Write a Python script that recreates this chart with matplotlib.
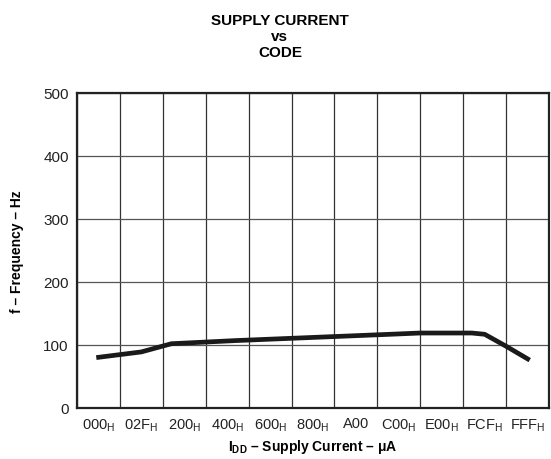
import matplotlib
matplotlib.use("Agg")
import matplotlib.pyplot as plt
import numpy as np

plt.rcParams['font.family'] = ['Liberation Sans', 'DejaVu Sans']
plt.rcParams['mathtext.fontset'] = 'custom'
plt.rcParams['mathtext.rm'] = 'Liberation Sans'
plt.rcParams['mathtext.bf'] = 'Liberation Sans:bold'

# code labels along x (one per grid cell)
codes = ["000$_{\\mathrm{H}}$", "02F$_{\\mathrm{H}}$", "200$_{\\mathrm{H}}$", "400$_{\\mathrm{H}}$",
         "600$_{\\mathrm{H}}$", "800$_{\\mathrm{H}}$", "A00", "C00$_{\\mathrm{H}}$",
         "E00$_{\\mathrm{H}}$", "FCF$_{\\mathrm{H}}$", "FFF$_{\\mathrm{H}}$"]

# curve (x in grid-cell units)
curve_x = [0.45, 1.5, 2.2, 3.7, 5.5, 7.3, 8.0, 9.2, 9.5, 10.0, 10.55]
curve_y = [80, 89, 102, 107, 112, 117, 119, 119, 117, 98, 76]

yticks = [0, 100, 200, 300, 400, 500]

fig = plt.figure(figsize=(5.51, 4.60), dpi=100)
ax = fig.add_axes([0.1397, 0.1109, 0.8567, 0.6848])

ax.plot(curve_x, curve_y, color='#1a1a1a', lw=3.4, solid_capstyle='butt', zorder=3)

ax.set_xlim(0, len(codes))
ax.set_ylim(0, 500)
ax.set_xticks(np.arange(len(codes)) + 0.5)
ax.set_xticklabels(codes, fontsize=10.5)
ax.set_xticks(np.arange(len(codes) + 1), minor=True)
ax.set_yticks(yticks)
ax.set_yticklabels([str(v) for v in yticks], fontsize=11)
ax.tick_params(which='both', length=0, pad=6, colors='#222222')
ax.grid(True, which='minor', axis='x', color='#333333', lw=0.9)
ax.grid(True, which='major', axis='y', color='#555555', lw=0.9)
ax.grid(False, which='major', axis='x')
for s in ax.spines.values():
    s.set_linewidth(1.6)
    s.set_color('#222222')

ax.set_xlabel("I$_{\\mathbf{DD}}$ – Supply Current – μA", fontsize=10, fontweight='bold', labelpad=3)
ax.set_ylabel("f – Frequency – Hz", fontsize=10, fontweight='bold', labelpad=14)

fig.text(0.508, 0.955, "SUPPLY CURRENT", ha='center', va='center', fontsize=11, fontweight='bold')
fig.text(0.508, 0.92, "vs", ha='center', va='center', fontsize=11, fontweight='bold')
fig.text(0.508, 0.885, "CODE", ha='center', va='center', fontsize=11, fontweight='bold')

fig.savefig("out.png", dpi=100)
